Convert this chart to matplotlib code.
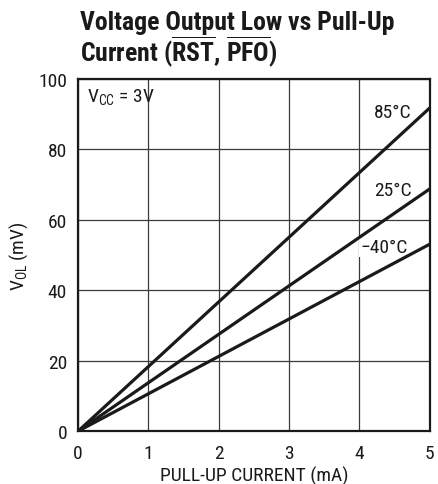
import matplotlib
matplotlib.use("Agg")
import matplotlib.pyplot as plt
from matplotlib import font_manager as fm

names = {f.name for f in fm.fontManager.ttflist}
narrow = 'Roboto Condensed' if 'Roboto Condensed' in names else 'DejaVu Sans'
plt.rcParams['font.family'] = [narrow, 'DejaVu Sans']
plt.rcParams['mathtext.fontset'] = 'custom'
plt.rcParams['mathtext.rm'] = narrow
plt.rcParams['mathtext.bf'] = narrow + ':bold'

# Data
current_ma = [0, 5]
series_labels = ["85°C", "25°C", "\u221240°C"]
vol_85 = [0, 91.8]
vol_25 = [0, 68.8]
vol_m40 = [0, 53.1]
series = [vol_85, vol_25, vol_m40]
label_pos = [(4.74, 90.6), (4.74, 68.5), (4.69, 52.3)]
x_ticks = [0, 1, 2, 3, 4, 5]
y_ticks = [0, 20, 40, 60, 80, 100]

fig = plt.figure(figsize=(4.39, 4.85), dpi=100)
ax = fig.add_axes([0.178, 0.109, 0.801, 0.726])

for v in series:
    ax.plot(current_ma, v, color='#1a1a1a', lw=2.3, solid_capstyle='butt', zorder=3)

ax.set_xlim(0, 5)
ax.set_ylim(0, 100)
ax.set_xticks(x_ticks)
ax.set_yticks(y_ticks)
ax.grid(True, color='#3a3a3a', lw=0.9)
ax.tick_params(length=0, labelsize=14, colors='#1a1a1a')
ax.tick_params(axis='x', pad=9)
ax.tick_params(axis='y', pad=8)
for s in ax.spines.values():
    s.set_linewidth(1.6)
    s.set_color('#1a1a1a')

for lab, (x, y) in zip(series_labels, label_pos):
    ax.text(x, y, lab, ha='right', va='center', fontsize=14, color='#1a1a1a',
            bbox=dict(facecolor='white', edgecolor='none', pad=1), zorder=2)

ax.text(0.12, 95.0, r'V$_{\mathrm{CC}}$ = 3V', ha='left', va='center', fontsize=14,
        color='#1a1a1a', zorder=2)

ax.set_xlabel('PULL-UP CURRENT (mA)', fontsize=14, color='#1a1a1a', labelpad=3)
ax.set_ylabel(r'V$_{\mathrm{OL}}$ (mV)', fontsize=14, color='#1a1a1a', labelpad=6)

fig.text(0.182, 0.977, 'Voltage Output Low vs Pull-Up', fontsize=18.5, fontweight='bold',
         ha='left', va='top', color='#1a1a1a')
fig.text(0.182, 0.929, r'Current ($\overline{\mathbf{RST}}$, $\overline{\mathbf{PFO}}$)',
         fontsize=18.5, fontweight='bold', ha='left', va='top', color='#1a1a1a')

fig.savefig('out.png', dpi=100)
